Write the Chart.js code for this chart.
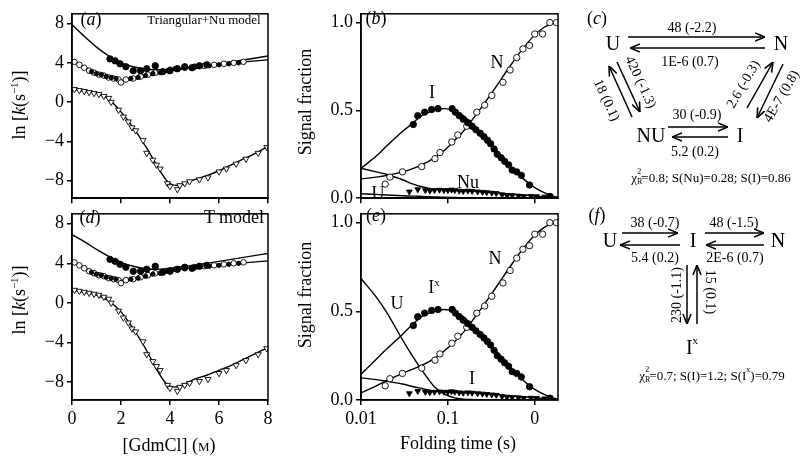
<!DOCTYPE html>
<html>
<head>
<meta charset="utf-8">
<script src="https://cdn.jsdelivr.net/npm/chart.js@4.4.1/dist/chart.umd.min.js"></script>
<style>
body { margin: 0; background: #fff; }
#wrap { position: relative; width: 800px; height: 461px; overflow: hidden; font-family: "Liberation Serif", "Times New Roman", serif; color: #000; }
canvas { position: absolute; }
.t { position: absolute; transform: translate(-50%, -50%); line-height: 1; white-space: nowrap; }
.rot { transform: translate(-50%, -50%) rotate(-90deg); }
svg { position: absolute; left: 0; top: 0; }
svg text { font-family: "Liberation Serif", "Times New Roman", serif; }
</style>
</head>
<body>
<div id="wrap">
  <canvas id="pa" width="280" height="212" style="left:0;top:0"></canvas>
  <canvas id="pd" width="280" height="261" style="left:0;top:200px"></canvas>
  <canvas id="pb" width="280" height="212" style="left:290px;top:0"></canvas>
  <canvas id="pe" width="280" height="261" style="left:290px;top:200px"></canvas>
</div>
<script>
// ---- panel a / d : rate constants vs denaturant ----
const gdmTicks = [0, 2, 4, 6, 8];
const lnkTicks = [-8, -4, 0, 4, 8];
const gdmFit = [0, 0.5, 1, 1.5, 2, 2.5, 3, 3.5, 3.8, 4, 4.3, 4.6, 5, 5.5, 6, 6.5, 7, 7.5, 8];
const aFitFast = [7.9, 6.7, 5.6, 4.7, 4.0, 3.6, 3.35, 3.3, 3.3, 3.35, 3.4, 3.5, 3.6, 3.75, 3.9, 4.1, 4.3, 4.5, 4.7];
const aFitMid  = [4.2, 3.6, 3.0, 2.5, 2.2, 2.3, 2.6, 2.9, 3.05, 3.2, 3.3, 3.4, 3.6, 3.75, 3.85, 4.0, 4.1, 4.2, 4.3];
const aFitSlow = [1.3, 1.1, 0.9, 0.3, -1.0, -2.6, -4.5, -6.6, -7.8, -8.3, -8.5, -8.3, -7.9, -7.5, -7.0, -6.4, -5.8, -5.2, -4.5];
const dFitFast = [6.9, 6.2, 5.4, 4.7, 4.1, 3.7, 3.45, 3.4, 3.45, 3.5, 3.6, 3.7, 3.8, 4.0, 4.2, 4.4, 4.6, 4.8, 5.0];
const dFitMid  = [4.1, 3.6, 3.0, 2.5, 2.3, 2.4, 2.7, 3.0, 3.1, 3.2, 3.35, 3.45, 3.6, 3.75, 3.85, 3.95, 4.05, 4.15, 4.25];
const dFitSlow = [1.3, 1.1, 0.8, 0.2, -0.9, -2.6, -4.6, -6.9, -8.0, -8.4, -8.5, -8.2, -7.7, -7.3, -6.8, -6.3, -5.7, -5.1, -4.5];

const fastX = [1.55, 1.76, 1.96, 2.2, 2.5, 2.8, 3.05, 3.4, 3.7, 4.0, 4.3, 4.6, 4.9, 5.2, 5.5];
const fastY = [4.4, 4.2, 3.9, 3.6, 3.2, 3.2, 3.4, 3.7, 3.1, 3.2, 3.4, 3.6, 3.5, 3.7, 3.8];
const midFilledX = [0.8, 1.0, 1.2, 1.4, 1.6, 1.8, 2.4, 2.7, 3.0, 3.3, 3.6, 3.9, 4.2, 4.6, 5.0, 5.6, 6.0, 6.4, 6.8];
const midFilledY = [3.1, 2.9, 2.8, 2.6, 2.5, 2.4, 2.4, 2.5, 2.7, 2.9, 3.0, 3.2, 3.4, 3.5, 3.6, 3.7, 3.8, 3.9, 4.0];
const midOpenX = [0.1, 0.3, 0.5, 0.7, 0.9, 1.1, 1.3, 1.5, 1.7, 1.9, 2.0, 2.2, 2.5, 2.8, 3.1, 3.4, 3.7, 4.0, 4.3, 4.6, 5.0, 5.4, 5.8, 6.2, 6.6, 7.0];
const midOpenY = [4.1, 3.8, 3.5, 3.2, 3.0, 2.8, 2.7, 2.5, 2.4, 2.3, 2.0, 2.3, 2.4, 2.6, 2.8, 3.0, 3.1, 3.3, 3.4, 3.5, 3.6, 3.7, 3.8, 3.9, 4.0, 4.1];
const slowX = [0.1, 0.3, 0.5, 0.7, 0.9, 1.1, 1.3, 1.5, 1.6, 1.9, 2.1, 2.3, 2.45, 2.6, 2.9, 3.05, 3.3, 3.45, 3.6, 3.9, 4.0, 4.3, 4.4, 4.6, 4.8, 5.2, 5.55, 6.0, 6.3, 6.7, 7.1, 7.6, 7.95];
const slowY = [1.3, 1.2, 1.1, 1.0, 0.9, 0.8, 0.6, 0.4, 0.0, -0.8, -1.5, -2.0, -2.6, -2.9, -3.9, -5.2, -5.9, -6.4, -6.8, -8.3, -8.6, -8.9, -8.5, -8.3, -8.1, -7.9, -7.7, -7.1, -6.8, -6.3, -5.8, -5.2, -4.6];

// ---- panel b / e : signal fractions vs folding time ----
const timeTicks = [0.01, 0.1, 1];
const timeTickLabels = ["0.01", "0.1", "0"];
const fracTicks = [0, 0.5, 1];
const timeFit = [0.01, 0.015, 0.02, 0.03, 0.04, 0.05, 0.07, 0.09, 0.12, 0.15, 0.2, 0.3, 0.4, 0.5, 0.7, 1.0, 1.3, 1.6, 1.85];
const bFitI  = [0.17, 0.24, 0.30, 0.38, 0.43, 0.47, 0.50, 0.51, 0.50, 0.47, 0.41, 0.32, 0.25, 0.19, 0.12, 0.06, 0.03, 0.012, 0.005];
const bFitN  = [0.11, 0.12, 0.13, 0.15, 0.17, 0.19, 0.23, 0.27, 0.33, 0.38, 0.46, 0.58, 0.67, 0.74, 0.84, 0.93, 0.975, 0.995, 1.0];
const bFitNu = [0.17, 0.15, 0.135, 0.105, 0.08, 0.065, 0.05, 0.046, 0.044, 0.042, 0.04, 0.035, 0.03, 0.025, 0.02, 0.012, 0.008, 0.005, 0.004];
const bFitU  = [0.025, 0.022, 0.018, 0.014, 0.012, 0.01, 0.007, 0.005, 0.004, 0.003, 0.002, 0.001, 0, 0, 0, 0, 0, 0, 0];
const eFitIx = [0.145, 0.23, 0.29, 0.37, 0.43, 0.47, 0.50, 0.51, 0.50, 0.47, 0.41, 0.32, 0.25, 0.19, 0.12, 0.06, 0.03, 0.012, 0.005];
const eFitN  = [0.04, 0.08, 0.11, 0.15, 0.175, 0.195, 0.235, 0.275, 0.33, 0.38, 0.46, 0.58, 0.67, 0.74, 0.84, 0.93, 0.975, 0.995, 1.0];
const eFitU  = [0.685, 0.58, 0.49, 0.34, 0.24, 0.17, 0.075, 0.035, 0.012, 0.005, 0.002, 0, 0, 0, 0, 0, 0, 0, 0];
const eFitI  = [0.125, 0.115, 0.105, 0.09, 0.075, 0.065, 0.05, 0.046, 0.044, 0.042, 0.04, 0.035, 0.03, 0.025, 0.02, 0.012, 0.008, 0.005, 0.004];

const interX = [0.040, 0.045, 0.054, 0.065, 0.077, 0.112, 0.122, 0.135, 0.15, 0.17, 0.19, 0.21, 0.235, 0.26, 0.285, 0.31, 0.34, 0.37, 0.41, 0.45, 0.5, 0.55, 0.62, 0.7, 0.87, 1.5];
const interY = [0.42, 0.47, 0.49, 0.505, 0.51, 0.51, 0.49, 0.47, 0.45, 0.43, 0.41, 0.39, 0.37, 0.35, 0.33, 0.31, 0.28, 0.25, 0.23, 0.21, 0.19, 0.16, 0.15, 0.13, 0.075, 0.01];
const nativeX = [0.019, 0.0215, 0.03, 0.05, 0.071, 0.081, 0.111, 0.13, 0.165, 0.215, 0.265, 0.32, 0.43, 0.52, 0.62, 0.73, 0.87, 1.0, 1.23, 1.49, 1.78];
const nativeY = [0.08, 0.12, 0.15, 0.18, 0.225, 0.26, 0.32, 0.36, 0.41, 0.49, 0.53, 0.585, 0.66, 0.73, 0.80, 0.85, 0.87, 0.935, 0.935, 1.0, 1.0];
const minorX = [0.036, 0.045, 0.055, 0.062, 0.07, 0.08, 0.09, 0.1, 0.11, 0.12, 0.135, 0.15, 0.17, 0.19, 0.22, 0.25, 0.28, 0.32, 0.36, 0.42, 0.48, 0.55, 0.65, 0.75, 0.9, 1.05, 1.3, 1.5];
const minorY = [0.037, 0.05, 0.045, 0.042, 0.045, 0.047, 0.045, 0.045, 0.048, 0.045, 0.042, 0.04, 0.042, 0.04, 0.037, 0.035, 0.033, 0.03, 0.028, 0.02, 0.015, 0.015, 0.012, 0.01, 0.012, 0.01, 0.008, 0.01];

const FONT = "'Liberation Serif', 'Times New Roman', serif";
const pts = (xs, ys) => xs.map((x, i) => ({ x: x, y: ys[i] }));

const boxPlugin = {
  id: "box",
  afterDraw(chart) {
    const a = chart.chartArea, ctx = chart.ctx;
    ctx.save();
    ctx.strokeStyle = "#000";
    ctx.lineWidth = 1.5;
    ctx.strokeRect(a.left, a.top, a.right - a.left, a.bottom - a.top);
    ctx.restore();
  }
};

function marks(xs, ys, style, r, fill, rot) {
  return {
    data: pts(xs, ys), showLine: false,
    pointStyle: style, pointRadius: r, pointRotation: rot || 0,
    pointBackgroundColor: fill, pointBorderColor: "#000", pointBorderWidth: 0.9
  };
}
function fit(xs, ys) {
  return {
    data: pts(xs, ys), showLine: true, pointRadius: 0,
    borderColor: "#000", borderWidth: 1.4, cubicInterpolationMode: "monotone"
  };
}

function axis(o) {
  return {
    type: o.type, min: o.min, max: o.max,
    afterBuildTicks: s => { s.ticks = o.ticks.map(v => ({ value: v })); },
    afterFit: s => { if (o.w !== undefined) s.width = o.w; if (o.h !== undefined) s.height = o.h; },
    ticks: {
      display: true, autoSkip: false, maxRotation: 0, padding: 3,
      color: o.labels ? "#000" : "rgba(0,0,0,0)",
      font: { family: FONT, size: 18 },
      callback: o.fmt
    },
    grid: { drawOnChartArea: false, drawTicks: true, tickLength: 5, color: "#000", lineWidth: 1.5 },
    border: { display: true, color: "#000", width: 1.5 }
  };
}

function panel(id, top, xAxis, yAxis, datasets) {
  return new Chart(document.getElementById(id), {
    type: "scatter",
    data: { datasets: datasets },
    options: {
      responsive: false, animation: false, events: [],
      layout: { padding: { left: 0, top: top, right: 12, bottom: 0 } },
      plugins: { legend: { display: false }, tooltip: { enabled: false } },
      scales: { x: xAxis, y: yAxis }
    },
    plugins: [boxPlugin]
  });
}

const fmtLn = v => (v < 0 ? "\u2212" + (-v) : String(v));
const fmtFrac = v => v.toFixed(1);
const fmtTime = v => timeTickLabels[timeTicks.indexOf(v)] || "";

function rateData(fast, mid, slow) {
  return [
    marks(fastX, fastY, "circle", 3.2, "#000"),
    marks(midFilledX, midFilledY, "circle", 2.2, "#000"),
    marks(midOpenX, midOpenY, "circle", 2.8, "#fff"),
    marks(slowX, slowY, "triangle", 3.5, "#fff", 180),
    fit(gdmFit, fast), fit(gdmFit, mid), fit(gdmFit, slow)
  ];
}

panel("pa", 7,
  axis({ type: "linear", min: 0, max: 8, ticks: gdmTicks, labels: false, h: 9 }),
  axis({ type: "linear", min: -9.8, max: 9.0, ticks: lnkTicks, labels: true, w: 72, fmt: fmtLn }),
  rateData(aFitFast, aFitMid, aFitSlow));

panel("pd", 4,
  axis({ type: "linear", min: 0, max: 8, ticks: gdmTicks, labels: true, h: 61 }),
  axis({ type: "linear", min: -9.8, max: 9.0, ticks: lnkTicks, labels: true, w: 72, fmt: fmtLn }),
  rateData(dFitFast, dFitMid, dFitSlow));

function fracData(fits) {
  return [
    marks(interX, interY, "circle", 3.2, "#000"),
    marks(nativeX, nativeY, "circle", 3.2, "#fff"),
    marks(minorX, minorY, "triangle", 3.3, "#000", 180)
  ].concat(fits.map(f => fit(timeFit, f)));
}

panel("pb", 7,
  axis({ type: "logarithmic", min: 0.01, max: 1.85, ticks: timeTicks, labels: false, h: 9, fmt: fmtTime }),
  axis({ type: "linear", min: 0, max: 1.05, ticks: fracTicks, labels: true, w: 71, fmt: fmtFrac }),
  fracData([bFitI, bFitN, bFitNu, bFitU]));

panel("pe", 4,
  axis({ type: "logarithmic", min: 0.01, max: 1.85, ticks: timeTicks, labels: true, h: 61, fmt: fmtTime }),
  axis({ type: "linear", min: 0, max: 1.05, ticks: fracTicks, labels: true, w: 71, fmt: fmtFrac }),
  fracData([eFitIx, eFitN, eFitU, eFitI]));

// ---- text overlays ----
const wrap = document.getElementById("wrap");
function put(html, cx, cy, size, cls) {
  const d = document.createElement("div");
  d.className = "t" + (cls ? " " + cls : "");
  d.style.left = cx + "px";
  d.style.top = cy + "px";
  d.style.fontSize = size + "px";
  d.innerHTML = html;
  wrap.appendChild(d);
}
put("(<i>a</i>)", 91, 19, 18);
put("Triangular+Nu model", 204, 19, 13);
put("(<i>d</i>)", 90, 217, 18);
put("T model", 234, 217, 18);
put("(<i>b</i>)", 376, 18, 18);
put("(<i>e</i>)", 376, 215, 18);
put("ln [<i>k</i>(s<sup style='font-size:11px'>\u22121</sup>)]", 18, 105, 18, "rot");
put("ln [<i>k</i>(s<sup style='font-size:11px'>\u22121</sup>)]", 18, 300, 18, "rot");
put("Signal fraction", 305, 102, 18, "rot");
put("Signal fraction", 305, 295, 18, "rot");
put("[GdmCl] (<span style='font-variant:small-caps'>m</span>)", 169, 445, 18);
put("Folding time (s)", 458, 443, 18);
put("I", 432, 92, 18);
put("N", 497, 62, 18);
put("Nu", 468, 182, 18);
put("U", 378, 193, 18);
put("N", 495, 258, 18);
put("I<sup style='font-size:11px'>x</sup>", 434, 286, 18);
put("U", 397, 303, 18);
put("I", 472, 378, 18);

// ---- kinetic schemes (c) and (f) ----
const svgNS = "http://www.w3.org/2000/svg";
const svg = document.createElementNS(svgNS, "svg");
svg.setAttribute("width", 800);
svg.setAttribute("height", 461);
svg.innerHTML =
  '<defs><marker id="ah" viewBox="0 0 10 10" refX="10" refY="5" markerWidth="10" markerHeight="10" markerUnits="userSpaceOnUse" orient="auto">' +
  '<path d="M0,1 L10,5 L0,9" fill="none" stroke="#000" stroke-width="1.6"/></marker></defs>';
wrap.appendChild(svg);

function arrow(x1, y1, x2, y2) {
  const l = document.createElementNS(svgNS, "line");
  l.setAttribute("x1", x1); l.setAttribute("y1", y1);
  l.setAttribute("x2", x2); l.setAttribute("y2", y2);
  l.setAttribute("stroke", "#000"); l.setAttribute("stroke-width", 1.5);
  l.setAttribute("marker-end", "url(#ah)");
  svg.appendChild(l);
}
function label(html, x, y, size, rot) {
  const t = document.createElementNS(svgNS, "text");
  t.setAttribute("x", x); t.setAttribute("y", y);
  t.setAttribute("font-size", size);
  t.setAttribute("text-anchor", "middle");
  t.setAttribute("dominant-baseline", "central");
  if (rot) t.setAttribute("transform", "rotate(" + rot + " " + x + " " + y + ")");
  t.innerHTML = html;
  svg.appendChild(t);
}

// scheme c
label('(<tspan font-style="italic">c</tspan>)', 597, 18, 18);
label("U", 613, 43, 20);
label("N", 781, 43, 20);
label("48 (-2.2)", 692, 27, 14);
arrow(628, 37, 765, 37);
arrow(765, 48, 630, 48);
label("1E-6 (0.7)", 690, 61, 14);
label("NU", 651, 135, 20);
label("I", 740, 135, 20);
label("30 (-0.9)", 697, 114, 14);
arrow(668, 127, 728, 127);
arrow(728, 137, 672, 137);
label("5.2 (0.2)", 695, 151, 14);
arrow(617, 62, 640, 112);
arrow(632, 117, 609, 66);
label("420 (-1.3)", 641, 82, 14, 65);
label("18 (0.1)", 607, 100, 14, 65);
arrow(747, 108, 773, 62);
arrow(783, 64, 757, 118);
label("2.6 (-0.3)", 743, 84, 14, -60);
label("4E-7 (0.8)", 781, 96, 14, -60);
label('\u03C7<tspan font-size="8" dy="4">R</tspan><tspan font-size="8" dx="-5" dy="-10">2</tspan><tspan dy="6">=0.8; S(Nu)=0.28; S(I)=0.86</tspan>', 711, 177, 13);

// scheme f
label('(<tspan font-style="italic">f</tspan>)', 597, 215, 18);
label("U", 610, 240, 20);
label("38 (-0.7)", 655, 222, 14);
arrow(622, 233, 678, 233);
arrow(680, 245, 620, 245);
label("5.4 (0.2)", 655, 257, 14);
label("I", 693, 240, 20);
label("48 (-1.5)", 734, 222, 14);
arrow(705, 233, 764, 233);
arrow(764, 245, 706, 245);
label("N", 778, 240, 20);
label("2E-6 (0.7)", 735, 257, 14);
arrow(687, 265, 687, 324);
arrow(697, 324, 697, 265);
label("230 (-1.1)", 676, 295, 14, -90);
label("15 (0.1)", 710, 292, 14, 90);
label('I<tspan font-size="11" dy="-7">x</tspan>', 692, 347, 20);
label('\u03C7<tspan font-size="8" dy="4">R</tspan><tspan font-size="8" dx="-5" dy="-10">2</tspan><tspan dy="6">=0.7; S(I)=1.2; S(I</tspan><tspan font-size="8" dy="-6">x</tspan><tspan dy="6">)=0.79</tspan>', 712, 375, 13);
</script>
</body>
</html>
